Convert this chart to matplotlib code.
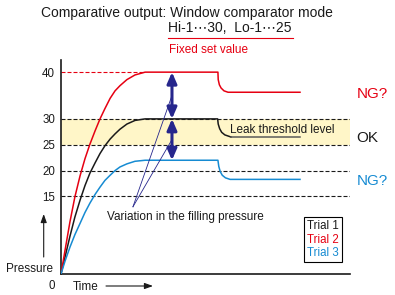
import matplotlib
matplotlib.use("Agg")
import matplotlib.pyplot as plt
import numpy as np
from matplotlib.lines import Line2D

plt.rcParams['font.family'] = ['Liberation Sans', 'DejaVu Sans']

# --- data (time in arbitrary units, pressure in set-value units)
trial1_time = [0, 1.4, 3.1, 4.8, 6.6, 8.3, 10.0, 11.8, 13.5, 15.2, 17.0, 18.7, 20.4, 22.8, 25.6, 29.1,
               54.2, 54.4, 54.9, 55.6, 56.7, 58.8, 82.7]
trial1_pres = [0, 3.3, 7.3, 11.0, 14.3, 17.1, 19.5, 21.5, 23.3, 24.8, 26.1, 27.1, 28.0, 29.0, 29.7, 30.0,
               30.0, 29.0, 28.1, 27.4, 26.9, 26.5, 26.5]

trial2_time = [0, 1.4, 3.1, 4.8, 6.6, 8.3, 10.0, 11.8, 13.5, 15.2, 17.0, 18.7, 20.4, 22.8, 25.6, 29.1,
               54.3, 54.4, 54.8, 55.4, 56.4, 57.8, 82.7]
trial2_pres = [0, 4.6, 10.1, 14.9, 19.0, 22.3, 25.1, 27.7, 30.0, 32.2, 34.4, 36.0, 37.1, 38.4, 39.4, 40.0,
               40.0, 38.4, 37.3, 36.6, 36.0, 35.7, 35.7]

trial3_time = [0, 1.4, 3.1, 4.8, 6.6, 8.3, 10.0, 11.8, 13.5, 15.2, 17.0, 18.7, 20.4, 22.8, 25.6, 29.1,
               54.3, 54.6, 55.1, 55.8, 56.9, 58.5, 82.7]
trial3_pres = [0, 2.5, 5.2, 7.6, 9.8, 11.9, 13.7, 15.4, 16.8, 18.1, 19.1, 20.0, 20.7, 21.3, 21.8, 22.0,
               22.0, 20.8, 19.8, 19.1, 18.6, 18.3, 18.3]

tick_values = [15, 20, 25, 30, 40]
ref_levels = [30, 25, 20, 15]
hi_limit, lo_limit = 30, 25
trial_labels = ['Trial 1', 'Trial 2', 'Trial 3']
verdicts = ['OK', 'NG?', 'NG?']

arrow_time = 38.4
pointer_origin = (24.9, 13.0)

RED = '#E60012'
BLUE = '#168BD2'
BLACK = '#1a1a1a'
NAVY = '#26268C'
YELLOW = '#FFF6C8'
DASH = (0, (3.6, 1.8))

W, H = 395, 295


def fx(px):
    return px / W


def fy(py):
    return 1 - py / H


# schematic pressure axis: the 30..40 span is drawn a bit tighter than below 30
def fwd(v):
    return np.interp(v, [-10, 0, 30, 50], [-51.7, 0, 155, 248.4])


def inv(p):
    return np.interp(p, [-51.7, 0, 155, 248.4], [-10, 0, 30, 50])


fig = plt.figure(figsize=(W / 100, H / 100), dpi=100)
ax = fig.add_axes([fx(61), 21 / H, 289 / W, 214 / H])
ax.set_yscale('function', functions=(fwd, inv))
ax.set_xlim(0, 100)
ax.set_ylim(0, 42.6)

# acceptance window and reference levels
ax.axhspan(lo_limit, hi_limit, color=YELLOW, lw=0, zorder=0)
for lvl in ref_levels:
    ax.axhline(lvl, color=BLACK, lw=0.8, ls=DASH, zorder=1)
red_flat = trial2_time[int(np.argmax(trial2_pres))]
ax.plot([0, red_flat], [max(trial2_pres)] * 2, color=RED, lw=0.8, ls=DASH, zorder=1)

# trials
h1, = ax.plot(trial1_time[:-1], trial1_pres[:-1], color=BLACK, lw=1.1, zorder=3)
ax.plot(trial1_time[-2:], trial1_pres[-2:], color='#5a5a5a', lw=1.1, zorder=3)
h2, = ax.plot(trial2_time, trial2_pres, color=RED, lw=1.1, zorder=3)
h3, = ax.plot(trial3_time, trial3_pres, color=BLUE, lw=1.1, zorder=3)

# variation arrows between the filled levels
levels = [max(trial2_pres), max(trial1_pres), max(trial3_pres)]
for top, bot in zip(levels[:-1], levels[1:]):
    ax.annotate('', xy=(arrow_time, top), xytext=(arrow_time, bot),
                arrowprops=dict(arrowstyle='<|-|>,head_length=0.55,head_width=0.24',
                                mutation_scale=12, lw=2.2, color=NAVY,
                                shrinkA=0, shrinkB=0), zorder=4)
    ax.plot([pointer_origin[0], arrow_time], [pointer_origin[1], (top + bot) / 2],
            color=NAVY, lw=0.6, zorder=4)

ax.text(16.0, 10.45, 'Variation in the filling pressure', fontsize=8.5,
        va='baseline', color=BLACK)
ax.text(58.5, 27.2, 'Leak threshold level', fontsize=8.5, va='baseline', color=BLACK)

# verdict labels at the final level of each trial
for pres, txt, col in zip([trial1_pres, trial2_pres, trial3_pres], verdicts, [BLACK, RED, BLUE]):
    ax.text(102.3, pres[-1], txt, fontsize=11, color=col, va='center_baseline',
            clip_on=False)

# axes styling
for side in ['top', 'right']:
    ax.spines[side].set_visible(False)
for side in ['left', 'bottom']:
    ax.spines[side].set_linewidth(1.2)
    ax.spines[side].set_color(BLACK)
ax.set_xticks([])
ax.set_yticks(tick_values)
ax.set_yticklabels([str(v) for v in tick_values])
ax.tick_params(axis='y', length=0, pad=4.3, labelsize=8.3, labelcolor=BLACK)
ax.set_facecolor('none')

leg = ax.legend([h1, h2, h3], trial_labels, loc='lower right',
                bbox_to_anchor=(0.971, 0.056), handlelength=0, handletextpad=0,
                labelcolor='linecolor', fontsize=8.3, frameon=True, fancybox=False,
                edgecolor='k', framealpha=1, borderpad=0.25, labelspacing=0.12,
                borderaxespad=0)
leg.get_frame().set_linewidth(0.8)

# header
fig.text(fx(41), fy(16.7), 'Comparative output: Window comparator mode',
         fontsize=10, va='baseline', color=BLACK)
fig.text(fx(168), fy(31.7), 'Hi-1\u22ef30,  Lo-1\u22ef25', fontsize=10,
         va='baseline', color=BLACK)
fig.add_artist(Line2D([fx(168), fx(293)], [fy(38), fy(38)], color=RED, lw=0.8))
fig.text(fx(169), fy(52.7), 'Fixed set value', fontsize=8.5, va='baseline', color=RED)

# axis captions
fig.text(fx(52.7), fy(272), 'Pressure', fontsize=8.5, ha='right', va='baseline', color=BLACK)
fig.text(fx(55), fy(289.3), '0', fontsize=8.3, ha='right', va='baseline', color=BLACK)
fig.text(fx(72.7), fy(290), 'Time', fontsize=8.5, va='baseline', color=BLACK)
ax.annotate('', xy=(fx(43.7), fy(214)), xytext=(fx(43.7), fy(257)),
            xycoords='figure fraction', textcoords='figure fraction',
            arrowprops=dict(arrowstyle='-|>,head_length=0.5,head_width=0.18',
                            mutation_scale=10, lw=0.8, color=BLACK,
                            shrinkA=0, shrinkB=0), annotation_clip=False)
ax.annotate('', xy=(fx(153), fy(286)), xytext=(fx(106), fy(286)),
            xycoords='figure fraction', textcoords='figure fraction',
            arrowprops=dict(arrowstyle='-|>,head_length=0.5,head_width=0.18',
                            mutation_scale=10, lw=0.8, color=BLACK,
                            shrinkA=0, shrinkB=0), annotation_clip=False)

fig.savefig('out.png', dpi=100)
